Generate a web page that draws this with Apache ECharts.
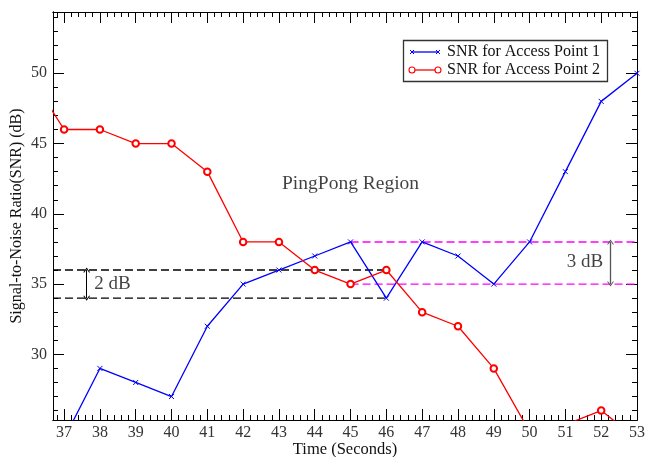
<!DOCTYPE html>
<html>
<head>
<meta charset="utf-8">
<script src="https://cdn.jsdelivr.net/npm/echarts@6/dist/echarts.min.js"></script>
<style>html,body{margin:0;padding:0;background:#fff}#c{width:649px;height:457px}</style>
</head>
<body>
<div id="c"></div>
<script>
// ---- data ----
const timeAP1 = [37, 38, 39, 40, 41, 42, 43, 44, 45, 46, 47, 48, 49, 50, 51, 52, 53];
const snrAP1  = [24, 29, 28, 27, 32, 35, 36, 37, 38, 34, 38, 37, 35, 38, 43, 48, 50];
const timeAP2 = [36, 37, 38, 39, 40, 41, 42, 43, 44, 45, 46, 47, 48, 49, 50, 51, 52, 53];
const snrAP2  = [50, 46, 46, 45, 45, 43, 38, 38, 36, 35, 36, 33, 32, 29, 24.5, 25, 26, 24];
const seriesNames = ['SNR for Access Point 1', 'SNR for Access Point 2'];
const xTickLabels = [37, 38, 39, 40, 41, 42, 43, 44, 45, 46, 47, 48, 49, 50, 51, 52, 53];
const yTickLabels = [30, 35, 40, 45, 50];
const xRange = [36.69, 53];
const yRange = [25.33, 54.36];
// reference levels: black dashed (AP2 margin) and magenta dashed (AP1 margin)
const blackLevels = [36, 34];
const blackSpan = [36.69, 46];
const magentaLevels = [38, 35];
const magentaSpan = [45, 53];
// annotation arrows
const arrow2dB = {t: 37.63, from: 34, to: 36};
const arrow3dB = {t: 52.26, from: 35, to: 38};
// annotation texts [time, snr, text]
const notes = [[45.0, 42.1, 'PingPong Region'], [38.35, 35.0, '2 dB'], [51.55, 36.6, '3 dB']];

// ---- minor ticks ----
const xMinor = [];
for (let i = Math.ceil(xRange[0] * 5); i <= xRange[1] * 5; i++) { if (i % 5 !== 0) xMinor.push(i / 5); }
const yMinor = [];
for (let v = Math.ceil(yRange[0]); v <= yRange[1]; v++) { if (v % 5 !== 0) yMinor.push(v); }

const FONT = 'Liberation Serif';
const chart = echarts.init(document.getElementById('c'), null, {renderer: 'canvas'});

function xAx(pos, vals, len, labels, extra) {
  return Object.assign({
    type: 'value', min: xRange[0], max: xRange[1], position: pos,
    axisLine: {show: true, onZero: false, lineStyle: {color: '#000', width: 1}},
    axisTick: {show: true, inside: true, length: len, customValues: vals, lineStyle: {color: '#000', width: 1}},
    axisLabel: labels ? {show: true, customValues: vals, margin: 5, color: '#333', fontFamily: FONT, fontSize: 16} : {show: false},
    splitLine: {show: false}
  }, extra || {});
}
function yAx(pos, vals, len, labels, extra) {
  return Object.assign({
    type: 'value', min: yRange[0], max: yRange[1], position: pos,
    axisLine: {show: true, onZero: false, lineStyle: {color: '#000', width: 1}},
    axisTick: {show: true, inside: true, length: len, customValues: vals, lineStyle: {color: '#000', width: 1}},
    axisLabel: labels ? {show: true, customValues: vals, margin: 6, color: '#333', fontFamily: FONT, fontSize: 16} : {show: false},
    splitLine: {show: false}
  }, extra || {});
}

const xLabelVals = xTickLabels.slice();
const yLabelVals = yTickLabels.slice();

const xSymbol = 'path://M0,0L8,8M8,0L0,8';
const openArrow = 'path://M0,10L5,0L10,10L8.4,10L5,3.2L1.6,10Z';

function xMark(cx, cy, color) {
  return [
    {type: 'line', shape: {x1: cx - 2, y1: cy - 2, x2: cx + 2, y2: cy + 2}, style: {stroke: color, lineWidth: 1}, z: 102},
    {type: 'line', shape: {x1: cx - 2, y1: cy + 2, x2: cx + 2, y2: cy - 2}, style: {stroke: color, lineWidth: 1}, z: 102}
  ];
}

const option = {
  animation: false,
  backgroundColor: '#fff',
  grid: {left: 53, top: 12, right: 12, bottom: 37, containLabel: false, outerBoundsMode: 'none'},
  xAxis: [
    xAx('bottom', xLabelVals, 11, true, {name: 'Time (Seconds)', nameLocation: 'middle', nameGap: 21, nameMoveOverlap: false,
      nameTextStyle: {fontFamily: FONT, fontSize: 16.5, color: '#111'}}),
    xAx('bottom', xMinor, 5, false),
    xAx('top', xLabelVals, 11, false),
    xAx('top', xMinor, 5, false)
  ],
  yAxis: [
    yAx('left', yLabelVals, 11, true, {name: 'Signal-to-Noise Ratio(SNR) (dB)', nameLocation: 'middle', nameGap: 28, nameMoveOverlap: false,
      nameTextStyle: {fontFamily: FONT, fontSize: 16, color: '#111'}}),
    yAx('left', yMinor, 5, false),
    yAx('right', yLabelVals, 11, false),
    yAx('right', yMinor, 5, false)
  ],
  series: [
    {
      name: 'blackDashed', type: 'line', xAxisIndex: 0, yAxisIndex: 0, symbol: 'none', silent: true,
      data: [[blackSpan[0], blackLevels[0]], [blackSpan[1], blackLevels[0]], [null, null], [blackSpan[0], blackLevels[1]], [blackSpan[1], blackLevels[1]]],
      connectNulls: false,
      lineStyle: {color: '#000', width: 1.4, type: [8, 4]}, z: 1
    },
    {
      name: 'magentaDashed', type: 'line', xAxisIndex: 0, yAxisIndex: 0, symbol: 'none', silent: true,
      data: [[magentaSpan[0], magentaLevels[0]], [magentaSpan[1], magentaLevels[0]], [null, null], [magentaSpan[0], magentaLevels[1]], [magentaSpan[1], magentaLevels[1]]],
      connectNulls: false,
      lineStyle: {color: '#ff00ff', width: 1.4, type: [8, 4]}, z: 1
    },
    {
      name: seriesNames[0], type: 'line', xAxisIndex: 0, yAxisIndex: 0,
      data: timeAP1.map((t, i) => [t, snrAP1[i]]),
      symbol: xSymbol, symbolSize: 5, showAllSymbol: true,
      itemStyle: {color: '#0000ff', borderColor: '#0000ff', borderWidth: 1},
      lineStyle: {color: '#0000ff', width: 1.3}, z: 3, clip: true
    },
    {
      name: seriesNames[1], type: 'line', xAxisIndex: 0, yAxisIndex: 0,
      data: timeAP2.map((t, i) => [t, snrAP2[i]]),
      symbol: 'emptyCircle', symbolSize: 6.5, showAllSymbol: true,
      itemStyle: {color: '#ff0000', borderColor: '#ff0000', borderWidth: 1},
      lineStyle: {color: '#ff0000', width: 1.3}, z: 3, clip: true
    },
    {
      name: 'arrows', type: 'line', xAxisIndex: 0, yAxisIndex: 0, data: [], symbol: 'none', silent: true,
      markLine: {
        silent: true, animation: false, symbol: [openArrow, openArrow], symbolSize: [7, 5],
        label: {show: false},
        data: [
          [{coord: [arrow2dB.t, arrow2dB.from], lineStyle: {color: '#000', width: 1, type: 'solid'}}, {coord: [arrow2dB.t, arrow2dB.to]}],
          [{coord: [arrow3dB.t, arrow3dB.from], lineStyle: {color: '#555', width: 1.3, type: 'solid'}}, {coord: [arrow3dB.t, arrow3dB.to]}]
        ]
      }
    },
    {
      name: 'notes', type: 'scatter', xAxisIndex: 0, yAxisIndex: 0, silent: true,
      data: notes.map(n => ({value: [n[0], n[1]], label: {formatter: n[2], fontSize: n[2] === 'PingPong Region' ? 19.5 : 19}})),
      symbolSize: 1, itemStyle: {color: 'rgba(0,0,0,0)'},
      label: {show: true, position: 'inside', color: '#111', fontFamily: FONT, align: 'center', verticalAlign: 'middle'},
      z: 4
    }
  ],
  graphic: [
    {type: 'rect', shape: {x: 403.5, y: 40.5, width: 204, height: 41}, style: {fill: '#fff', stroke: '#333', lineWidth: 1.3}, z: 100},
    {type: 'line', shape: {x1: 412, y1: 52, x2: 438, y2: 52}, style: {stroke: '#0000ff', lineWidth: 1.3}, z: 101}
  ].concat(xMark(412, 52, '#0000ff'), xMark(438, 52, '#0000ff'), [
    {type: 'text', x: 447, y: 52, style: {text: seriesNames[0], font: '16px "Liberation Serif"', fill: '#111', verticalAlign: 'middle'}, z: 101},
    {type: 'line', shape: {x1: 412, y1: 70, x2: 438, y2: 70}, style: {stroke: '#ff0000', lineWidth: 1.3}, z: 101},
    {type: 'circle', shape: {cx: 412, cy: 70, r: 3}, style: {fill: '#fff', stroke: '#ff0000', lineWidth: 1.1}, z: 102},
    {type: 'circle', shape: {cx: 438, cy: 70, r: 3}, style: {fill: '#fff', stroke: '#ff0000', lineWidth: 1.1}, z: 102},
    {type: 'text', x: 447, y: 70, style: {text: seriesNames[1], font: '16px "Liberation Serif"', fill: '#111', verticalAlign: 'middle'}, z: 101}
  ])
};
chart.setOption(option);
</script>
</body>
</html>
